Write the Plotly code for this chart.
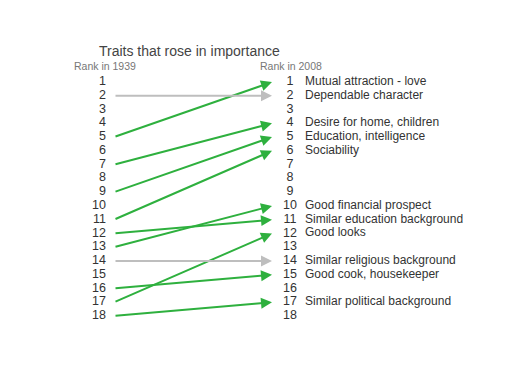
import plotly.graph_objects as go

ranks = list(range(1, 19))
rank_1939 = [5, 2, 7, 9, 11, 13, 12, 17, 14, 16, 18]
rank_2008 = [1, 2, 4, 5, 6, 10, 11, 12, 14, 15, 17]
traits = ["Mutual attraction - love", "Dependable character", "Desire for home, children",
          "Education, intelligence", "Sociability", "Good financial prospect",
          "Similar education background", "Good looks", "Similar religious background",
          "Good cook, housekeeper", "Similar political background"]
title = "Traits that rose in importance"
left_head = "Rank in 1939"
right_head = "Rank in 2008"

GREEN = "rgb(46,176,62)"
GRAY = "rgb(190,190,190)"
TXT = "#333333"
FONT = "Liberation Sans, Arial, sans-serif"

W, H = 508, 382
OFF = 8  # page body margin: plot area starts at window (8, 8)

# window-pixel positions
X_LNUM, X_START, X_END, X_RNUM, X_LABEL = 106, 114, 272, 290, 305
Y_FIRST, Y_LAST = 82, 316

fig = go.Figure()
fig.add_trace(go.Scatter(x=[X_LNUM] * len(ranks), y=ranks, mode="text",
                         text=[str(r) for r in ranks], textposition="middle left",
                         textfont=dict(family=FONT, size=12.5, color=TXT),
                         hoverinfo="skip", showlegend=False))
fig.add_trace(go.Scatter(x=[X_RNUM] * len(ranks), y=ranks, mode="text",
                         text=[str(r) for r in ranks], textposition="middle center",
                         textfont=dict(family=FONT, size=12.5, color=TXT),
                         hoverinfo="skip", showlegend=False))
fig.add_trace(go.Scatter(x=[X_LABEL] * len(traits), y=rank_2008, mode="text",
                         text=traits, textposition="middle right",
                         textfont=dict(family=FONT, size=12, color=TXT),
                         hoverinfo="skip", showlegend=False))

for a, b in zip(rank_1939, rank_2008):
    col = GRAY if a == b else GREEN
    fig.add_annotation(x=X_END, y=b, ax=X_START, ay=a, xref="x", yref="y",
                       axref="x", ayref="y", showarrow=True, arrowhead=2,
                       arrowsize=1.1, arrowwidth=2, arrowcolor=col, text="",
                       standoff=0, startstandoff=0)


def py(y):
    return 1 - (y - OFF) / H


fig.add_annotation(x=97, y=py(51), xref="x", yref="paper", text=title, showarrow=False,
                   xanchor="left", yanchor="middle",
                   font=dict(family=FONT, size=14, color="#444444"))
fig.add_annotation(x=72, y=py(66), xref="x", yref="paper", text=left_head, showarrow=False,
                   xanchor="left", yanchor="middle",
                   font=dict(family=FONT, size=10.5, color="#777777"))
fig.add_annotation(x=258, y=py(66), xref="x", yref="paper", text=right_head, showarrow=False,
                   xanchor="left", yanchor="middle",
                   font=dict(family=FONT, size=10.5, color="#777777"))

px_per_rank = (Y_LAST - Y_FIRST) / 17
r_top = 1 - (Y_FIRST - OFF) / px_per_rank
r_bot = r_top + H / px_per_rank

fig.update_layout(width=W, height=H, margin=dict(l=0, r=0, t=0, b=0),
                  paper_bgcolor="white", plot_bgcolor="white",
                  xaxis=dict(range=[OFF, OFF + W], visible=False),
                  yaxis=dict(range=[r_bot, r_top], visible=False))
fig.write_html("out.html")
